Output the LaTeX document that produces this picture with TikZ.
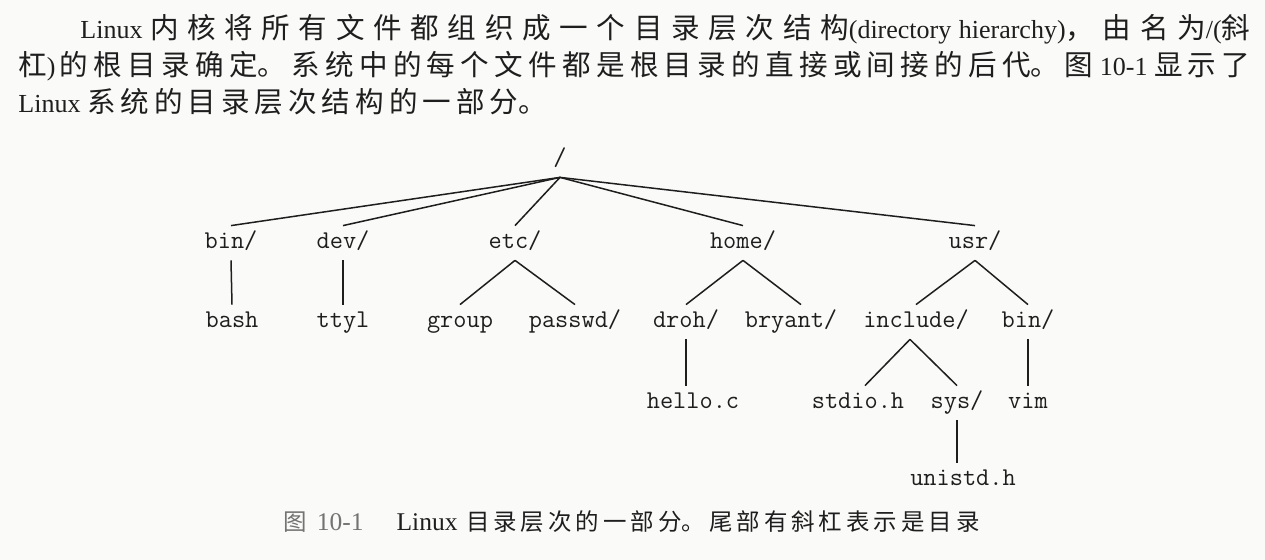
\documentclass[tikz,border=0pt]{standalone}
\usepackage{fontspec}
\setmainfont{Liberation Serif}
\newfontfamily\cjk[Scale=1.02]{Noto Sans CJK SC}
\usetikzlibrary{positioning}
\definecolor{inkgray}{RGB}{30,30,30}
\definecolor{capgray}{RGB}{115,115,115}
\definecolor{paper}{RGB}{250,250,248}
\XeTeXlinebreaklocale "zh"
\newcommand\zh[1]{{\cjk\fontsize{14pt}{18.5pt}\selectfont #1}}

\begin{document}
\begin{tikzpicture}[x=0.5pt,y=-0.5pt]
  \tikzset{
    dir/.style={font=\ttfamily\fontsize{12.8pt}{14pt}\selectfont,inner sep=0pt,
      text height=8pt,text depth=2.5pt,minimum height=17pt,text=inkgray},
    edge/.style={draw=inkgray,line width=0.75pt},
  }
  %BACKGROUND
  \fill[paper] (0,0) rectangle (1265,560);
  \useasboundingbox (0,0) rectangle (1265,560);
  %TEXT
  \node[anchor=north west,inner sep=0pt,text width=616pt,align=justify,text=inkgray,
    font=\fontsize{13pt}{18.5pt}\selectfont] (para) at (18,12)
    {\tolerance=10000\relax\XeTeXlinebreakskip=2.5pt plus 6pt\relax
    \rule{0pt}{13pt}\hspace*{31pt}Linux \zh{内核将所有文件都组织成一个目录层次结构}(directory hierarchy)\zh{，由名为}\mbox{/(}\zh{斜}\linebreak
    \zh{杠})\,\zh{的根目录确定。系统中的每个文件都是根目录的直接或间接的后代。图} 10-1 \zh{显示了}\linebreak
    Linux \zh{系统的目录层次结构的一部分。}};
  %CAPTION
  \node[anchor=west,inner sep=0pt,text width=400pt,align=left,text=inkgray,
    font=\fontsize{12.75pt}{15pt}\selectfont] (cap) at (283,522)
    {\XeTeXlinebreakskip=2pt\relax
    {\color{capgray}{\cjk\fontsize{11.5pt}{15pt}\selectfont 图}\hspace{5pt}10-1}\hspace{16.5pt}Linux {\cjk\fontsize{11.5pt}{15pt}\selectfont 目录层次的一部分。尾部有斜杠表示是目录}};
  %ROOT
  \node[dir] (root) at (560,160) {/};
  %LEVEL 1
  \node[dir] (bin) at (231,243) {bin/};
  \node[dir] (dev) at (343,243) {dev/};
  \node[dir] (etc) at (515,243) {etc/};
  \node[dir] (home) at (743,243) {home/};
  \node[dir] (usr) at (975,243) {usr/};
  %LEVEL 2
  \node[dir] (bash) at (232,322) {bash};
  \node[dir] (ttyl) at (343,322) {ttyl};
  \node[dir] (group) at (460,322) {group};
  \node[dir] (passwd) at (575,322) {passwd/};
  \node[dir] (droh) at (686,322) {droh/};
  \node[dir] (bryant) at (791,322) {bryant/};
  \node[dir] (include) at (916,322) {include/};
  \node[dir] (ubin) at (1028,322) {bin/};
  %LEVEL 3
  \node[dir] (hello) at (693,403) {hello.c};
  \node[dir] (stdio) at (858,403) {stdio.h};
  \node[dir] (sys) at (957,403) {sys/};
  \node[dir] (vim) at (1028,403) {vim};
  %LEVEL 4
  \node[dir] (unistd) at (963,480) {unistd.h};
  %EDGES
  \foreach \d in {bin,dev,etc,home,usr}{
    \draw[edge] (root.south) -- (\d.north);
  }
  \draw[edge] (bin.south) -- (bash.north);
  \draw[edge] (dev.south) -- (ttyl.north);
  \draw[edge] (etc.south) -- (group.north);
  \draw[edge] (etc.south) -- (passwd.north);
  \draw[edge] (home.south) -- (droh.north);
  \draw[edge] (home.south) -- ([xshift=5pt]bryant.north);
  \draw[edge] (usr.south) -- (include.north);
  \draw[edge] (usr.south) -- (ubin.north);
  \draw[edge] (droh.south) -- (droh.south |- hello.north);
  \draw[edge] ([xshift=-3pt]include.south) -- ([xshift=3.5pt]stdio.north);
  \draw[edge] ([xshift=-3pt]include.south) -- (sys.north);
  \draw[edge] (ubin.south) -- (vim.north);
  \draw[edge] (sys.south) -- (sys.south |- unistd.north);
\end{tikzpicture}
\end{document}
